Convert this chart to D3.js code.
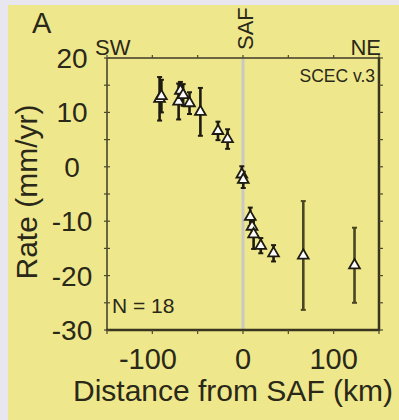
<!DOCTYPE html>
<html>
<head>
<meta charset="utf-8">
<script src="https://cdn.jsdelivr.net/npm/d3@7"></script>
<style>
  html, body { margin: 0; padding: 0; background: #e8e6ee; }
  svg { display: block; }
  text { font-family: "Liberation Sans", Arial, sans-serif; fill: #2a2818; }
</style>
</head>
<body>
<svg id="chart" width="399" height="420"></svg>
<script>
// GPS velocity profile across the San Andreas Fault (SCEC v.3)
const distance = [-92, -90, -71, -69, -66, -59, -47, -27.6, -17, -1.3, 0.3, 8, 10, 11.7, 19.6, 33.7, 66.5, 123];
const rate     = [12.5, 13, 12, 14, 13.2, 11.7, 10.1, 6.6, 5.1, -1.4, -2.4, -9.2, -11, -12.4, -14.5, -15.9, -16.3, -18.1];
const sigma    = [4, 3, 3.3, 1.6, 2, 2, 4.4, 1.7, 1.8, 1.5, 1.5, 1.7, 1.5, 2.7, 1.4, 1.5, 10, 6.9];

const xTicks = [-100, 0, 100];
const xMinorTicks = [-150, -100, -50, 0, 50, 100, 150];
const yTicks = [20, 10, 0, -10, -20, -30];
const yMinorTicks = [20, 15, 10, 5, 0, -5, -10, -15, -20, -25, -30];

const svg = d3.select("#chart");
const W = 399, H = 420;

// backdrop and yellow panel
svg.append("rect").attr("width", W).attr("height", H).attr("fill", "#e8e6ee");
svg.append("rect").attr("x", 8).attr("y", 5).attr("width", W - 8).attr("height", H - 5).attr("fill", "#eee78b");

const x = d3.scaleLinear().domain([-150, 150]).range([107, 379]);
const y = d3.scaleLinear().domain([-30, 20]).range([330, 58]);

const frame = "#4e4a30";

// fault trace
svg.append("line")
  .attr("x1", x(0)).attr("x2", x(0))
  .attr("y1", y(20)).attr("y2", y(-30))
  .attr("stroke", "#c9c9c4").attr("stroke-width", 3);

// frame: left/top lighter, right/bottom heavier
svg.append("line").attr("x1", x(-150)).attr("x2", x(150)).attr("y1", y(20)).attr("y2", y(20))
  .attr("stroke", "#6a6440").attr("stroke-width", 2);
svg.append("line").attr("x1", x(-150)).attr("x2", x(-150)).attr("y1", y(20)).attr("y2", y(-30))
  .attr("stroke", "#6a6440").attr("stroke-width", 2);
svg.append("line").attr("x1", x(150)).attr("x2", x(150)).attr("y1", y(20) - 1).attr("y2", y(-30) + 1)
  .attr("stroke", "#38341f").attr("stroke-width", 2.5);
svg.append("line").attr("x1", x(-150) - 1).attr("x2", x(150) + 1).attr("y1", y(-30)).attr("y2", y(-30))
  .attr("stroke", "#38341f").attr("stroke-width", 2.5);

// small ticks on all four sides
const ticks = svg.append("g").attr("stroke", frame).attr("stroke-width", 1.2);
yMinorTicks.forEach(v => {
  ticks.append("line").attr("x1", x(-150) - 3).attr("x2", x(-150) + 3).attr("y1", y(v)).attr("y2", y(v));
  ticks.append("line").attr("x1", x(150)).attr("x2", x(150) + 4).attr("y1", y(v)).attr("y2", y(v));
});
xMinorTicks.forEach(d => {
  ticks.append("line").attr("x1", x(d)).attr("x2", x(d)).attr("y1", y(20) - 3).attr("y2", y(20));
  ticks.append("line").attr("x1", x(d)).attr("x2", x(d)).attr("y1", y(-30)).attr("y2", y(-30) + 4);
});

// tick labels
svg.append("g").selectAll("text").data(yTicks).join("text")
  .attr("x", 72).attr("y", d => y(d)).attr("dy", "0.36em")
  .attr("text-anchor", "middle").attr("font-size", 28)
  .text(d => d);
svg.append("g").selectAll("text").data(xTicks).join("text")
  .attr("x", d => x(d)).attr("y", 369)
  .attr("dx", d => d < 0 ? "-0.15em" : 0)
  .attr("text-anchor", "middle").attr("font-size", 29)
  .text(d => d);

// axis titles
svg.append("text").attr("x", 233).attr("y", 401).attr("text-anchor", "middle")
  .attr("font-size", 30).text("Distance from SAF (km)");
svg.append("text").attr("transform", "translate(37,192) rotate(-90)").attr("text-anchor", "middle")
  .attr("font-size", 30).text("Rate (mm/yr)");

// annotations
svg.append("text").attr("x", 32).attr("y", 33).attr("font-size", 29).text("A");
svg.append("text").attr("x", 95).attr("y", 55).attr("font-size", 22).text("SW");
svg.append("text").attr("x", 381).attr("y", 55).attr("text-anchor", "end").attr("font-size", 22).text("NE");
svg.append("text").attr("transform", `translate(${x(0) + 10},50) rotate(-90)`)
  .attr("font-size", 22).text("SAF");
svg.append("text").attr("x", 375).attr("y", 82).attr("text-anchor", "end").attr("font-size", 17.5).text("SCEC v.3");
svg.append("text").attr("x", 112).attr("y", 313).attr("font-size", 21).text("N = 18");

// error bars and triangles
const pts = distance.map((d, i) => ({ d, r: rate[i], s: sigma[i] }));
const bars = svg.append("g");
pts.forEach(p => {
  const col = p.s > 5 ? "#4a4522" : "#1e1c12";
  const cx = x(p.d);
  bars.append("line").attr("x1", cx).attr("x2", cx)
    .attr("y1", y(p.r + p.s)).attr("y2", y(p.r - p.s))
    .attr("stroke", col).attr("stroke-width", 2.6);
  [p.r + p.s, p.r - p.s].forEach(v => {
    bars.append("line").attr("x1", cx - 2.5).attr("x2", cx + 2.5)
      .attr("y1", y(v)).attr("y2", y(v))
      .attr("stroke", col).attr("stroke-width", 2);
  });
});
const tri = d3.symbol().type(d3.symbolTriangle).size(50);
svg.append("g").selectAll("path").data(pts).join("path")
  .attr("d", tri)
  .attr("transform", p => `translate(${x(p.d)},${y(p.r)})`)
  .attr("fill", "#ffffff").attr("stroke", "#1e1c12").attr("stroke-width", 1.8);
</script>
</body>
</html>
